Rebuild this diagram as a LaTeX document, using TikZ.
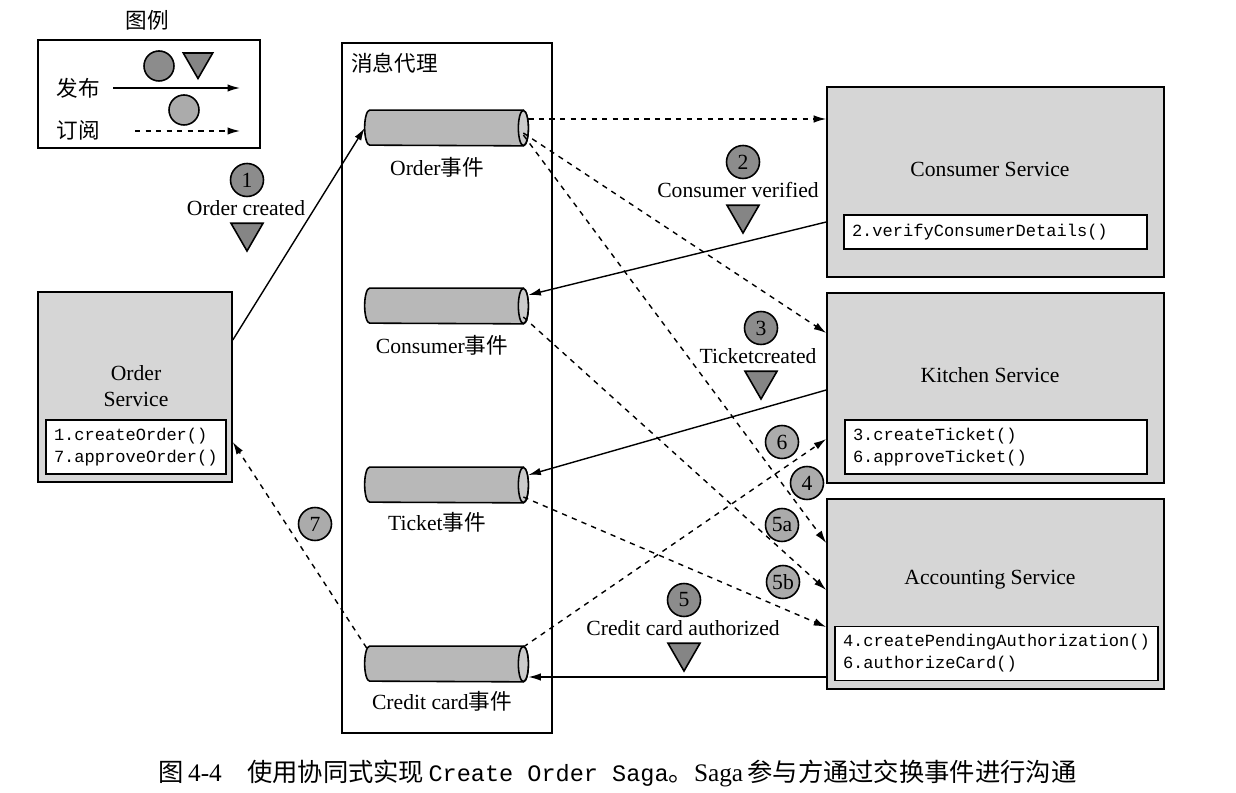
\documentclass[tikz,border=0pt]{standalone}
\usepackage{fontspec}
\setmainfont{Liberation Serif}
\setmonofont{Liberation Mono}
\newfontfamily\cjk{Noto Sans CJK SC}
\usepackage{xcolor}
\usetikzlibrary{positioning,arrows.meta,shapes.geometric,calc}

\definecolor{svcgray}{gray}{0.84}
\definecolor{quegray}{gray}{0.72}
\definecolor{queend}{gray}{0.80}
\definecolor{pubgray}{gray}{0.55}
\definecolor{subgray}{gray}{0.67}
\definecolor{trigray}{gray}{0.52}

\begin{document}
\begin{tikzpicture}[
    font=\fontsize{12.3}{14.5}\selectfont,
    service/.style={draw, line width=0.9pt, fill=svcgray, minimum width=6.74cm, minimum height=3.80cm, inner sep=0pt},
    methods/.style={draw, line width=0.9pt, fill=white, align=left, inner sep=0.16cm, font=\ttfamily\fontsize{9.7}{12.5}\selectfont},
    queue/.style={minimum width=3.26cm, minimum height=0.70cm, inner sep=0pt},
    queuebody/.style={draw, line width=0.9pt, fill=quegray},
    queueface/.style={draw, line width=0.9pt, fill=queend},
    pubmark/.style={circle, draw, line width=0.9pt, fill=pubgray, minimum size=0.66cm, inner sep=0pt},
    submark/.style={pubmark, fill=subgray},
    evtri/.style={regular polygon, regular polygon sides=3, shape border rotate=180, draw, line width=0.9pt, fill=trigray, minimum size=0.74cm, inner sep=0pt},
    pubflow/.style={-{Latex[length=0.25cm,width=0.15cm]}, thick},
    subflow/.style={pubflow, dashed},
  ]
  \useasboundingbox (0,0) rectangle (24.72,-15.86);
  % legend
  \node (legtitle) at (2.94,-0.40) {\cjk 图例};
  \node[draw, line width=0.9pt, minimum width=4.44cm, minimum height=2.16cm] (legbox) at (2.98,-1.88) {};
  \node[pubmark, minimum size=0.60cm] (legpubc) at (3.18,-1.32) {};
  \node[evtri, minimum size=0.68cm] (legtri) at (3.96,-1.23) {};
  \node (legpubt) at (1.56,-1.76) {\cjk 发布};
  \node[submark, minimum size=0.60cm] (legsubc) at (3.68,-2.20) {};
  \node (legsubt) at (1.56,-2.60) {\cjk 订阅};
  \coordinate (legpa) at (2.26,-1.76);
  \coordinate (legpb) at (4.80,-1.76);
  \coordinate (legsa) at (2.70,-2.62);
  \coordinate (legsb) at (4.80,-2.62);
  \draw[pubflow] (legpa) -- (legpb);
  \draw[subflow] (legsa) -- (legsb);
  % message broker
  \node[draw, line width=0.9pt, minimum width=4.20cm, minimum height=13.80cm] (broker) at (8.94,-7.76) {};
  \node[anchor=west] (brokert) at (6.90,-1.26) {\cjk 消息代理};
  \node[queue] (ordq) at (8.93,-2.56) {};
  \node (ordql) at (8.74,-3.34) {Order{\cjk 事件}};
  \node[queue] (cnsq) at (8.93,-6.12) {};
  \node (cnsql) at (8.84,-6.90) {Consumer{\cjk 事件}};
  \node[queue] (tktq) at (8.93,-9.70) {};
  \node (tktql) at (8.74,-10.44) {Ticket{\cjk 事件}};
  \node[queue] (crdq) at (8.93,-13.28) {};
  \node (crdql) at (8.84,-14.02) {Credit card{\cjk 事件}};
  \foreach \q in {ordq,cnsq,tktq,crdq} {
    \draw[queuebody] ($(\q.north east)+(-0.10,0)$) -- ($(\q.north west)+(0.10,0)$)
      arc[start angle=90, end angle=270, x radius=0.10cm, y radius=0.35cm]
      -- ($(\q.south east)+(-0.10,0)$)
      arc[start angle=-90, end angle=90, x radius=0.10cm, y radius=0.35cm] -- cycle;
    \draw[queueface] ($(\q.east)+(-0.10,0)$) ellipse[x radius=0.10cm, y radius=0.35cm];
  }
  % services
  \node[service, minimum width=3.88cm] (osvc) at (2.70,-7.74) {};
  \node[align=center] (osvct) at (2.72,-7.72) {Order\\Service};
  \node[methods, text width=3.28cm, minimum height=1.04cm] (osvcm) at (2.72,-8.94) {1.createOrder()\\7.approveOrder()};
  \node[service] (csvc) at (19.91,-3.64) {};
  \node (csvct) at (19.80,-3.38) {Consumer Service};
  \node[methods, text width=5.74cm, minimum height=0.68cm] (csvcm) at (19.91,-4.64) {2.verifyConsumerDetails()};
  \node[service] (ksvc) at (19.91,-7.76) {};
  \node (ksvct) at (19.80,-7.50) {Kitchen Service};
  \node[methods, text width=5.72cm, minimum height=1.04cm] (ksvcm) at (19.92,-8.94) {3.createTicket()\\6.approveTicket()};
  \node[service] (asvc) at (19.91,-11.88) {};
  \node (asvct) at (19.80,-11.60) {Accounting Service};
  \node[methods, text width=6.14cm, minimum height=1.06cm] (asvcm) at (19.93,-13.07) {4.createPendingAuthorization()\\6.authorizeCard()};
  % steps
  \node[pubmark] (s1) at (4.94,-3.60) {1};
  \node (ev1) at (4.92,-4.16) {Order created};
  \node[evtri] (t1) at (4.94,-4.65) {};
  \node[pubmark] (s2) at (14.86,-3.24) {2};
  \node (ev2) at (14.76,-3.80) {Consumer verified};
  \node[evtri] (t2) at (14.86,-4.29) {};
  \node[pubmark] (s3) at (15.22,-6.56) {3};
  \node (ev3) at (15.16,-7.12) {Ticketcreated};
  \node[evtri] (t3) at (15.22,-7.61) {};
  \node[pubmark] (s5) at (13.68,-12.00) {5};
  \node (ev5) at (13.66,-12.56) {Credit card authorized};
  \node[evtri] (t5) at (13.68,-13.05) {};
  \node[submark] (s6) at (15.64,-8.84) {6};
  \node[submark] (s4) at (16.14,-9.66) {4};
  \node[submark] (s5a) at (15.64,-10.50) {5a};
  \node[submark] (s5b) at (15.66,-11.64) {5b};
  \node[submark] (s7) at (6.30,-10.48) {7};
  % caption
  \node (caption) at (12.35,-15.46) {\fontsize{14.4}{17}\selectfont{\cjk 图}\,4-4\quad{\cjk 使用协同式实现}\,{\ttfamily\fontsize{13.4}{17}\selectfont Create Order Saga}{\cjk 。}Saga\,{\cjk 参与方通过交换事件进行沟通}};
  % publish / subscribe
  \draw[pubflow] ($(osvc.east)+(0,0.94)$) -- (ordq.west);
  \draw[subflow] ($(ordq.east)+(0,0.18)$) coordinate (o2c) -- (o2c -| csvc.west);
  \draw[subflow] ($(ordq.east)+(-0.10,-0.10)$) -- ($(ksvc.west)+(0,1.10)$);
  \draw[subflow] ($(ordq.east)+(-0.10,-0.14)$) -- ($(asvc.west)+(0,1.02)$);
  \draw[pubflow] ($(csvc.west)+(0,-0.80)$) -- ($(cnsq.east)+(0,0.22)$);
  \draw[subflow] ($(cnsq.east)+(-0.10,-0.22)$) -- ($(asvc.west)+(0,0.08)$);
  \draw[pubflow] ($(ksvc.west)+(0,-0.04)$) -- ($(tktq.east)+(0,0.20)$);
  \draw[subflow] ($(tktq.east)+(-0.10,-0.24)$) -- ($(asvc.west)+(0,-0.66)$);
  \draw[subflow] ($(crdq.east)+(-0.10,0.34)$) -- ($(ksvc.west)+(0,-1.02)$);
  \draw[subflow] ($(crdq.west)+(0.04,0.32)$) -- ($(osvc.east)+(0,-1.10)$);
  \draw[pubflow] ($(asvc.west)+(0,-1.66)$) coordinate (a2c) -- (a2c -| crdq.east);
\end{tikzpicture}
\end{document}
